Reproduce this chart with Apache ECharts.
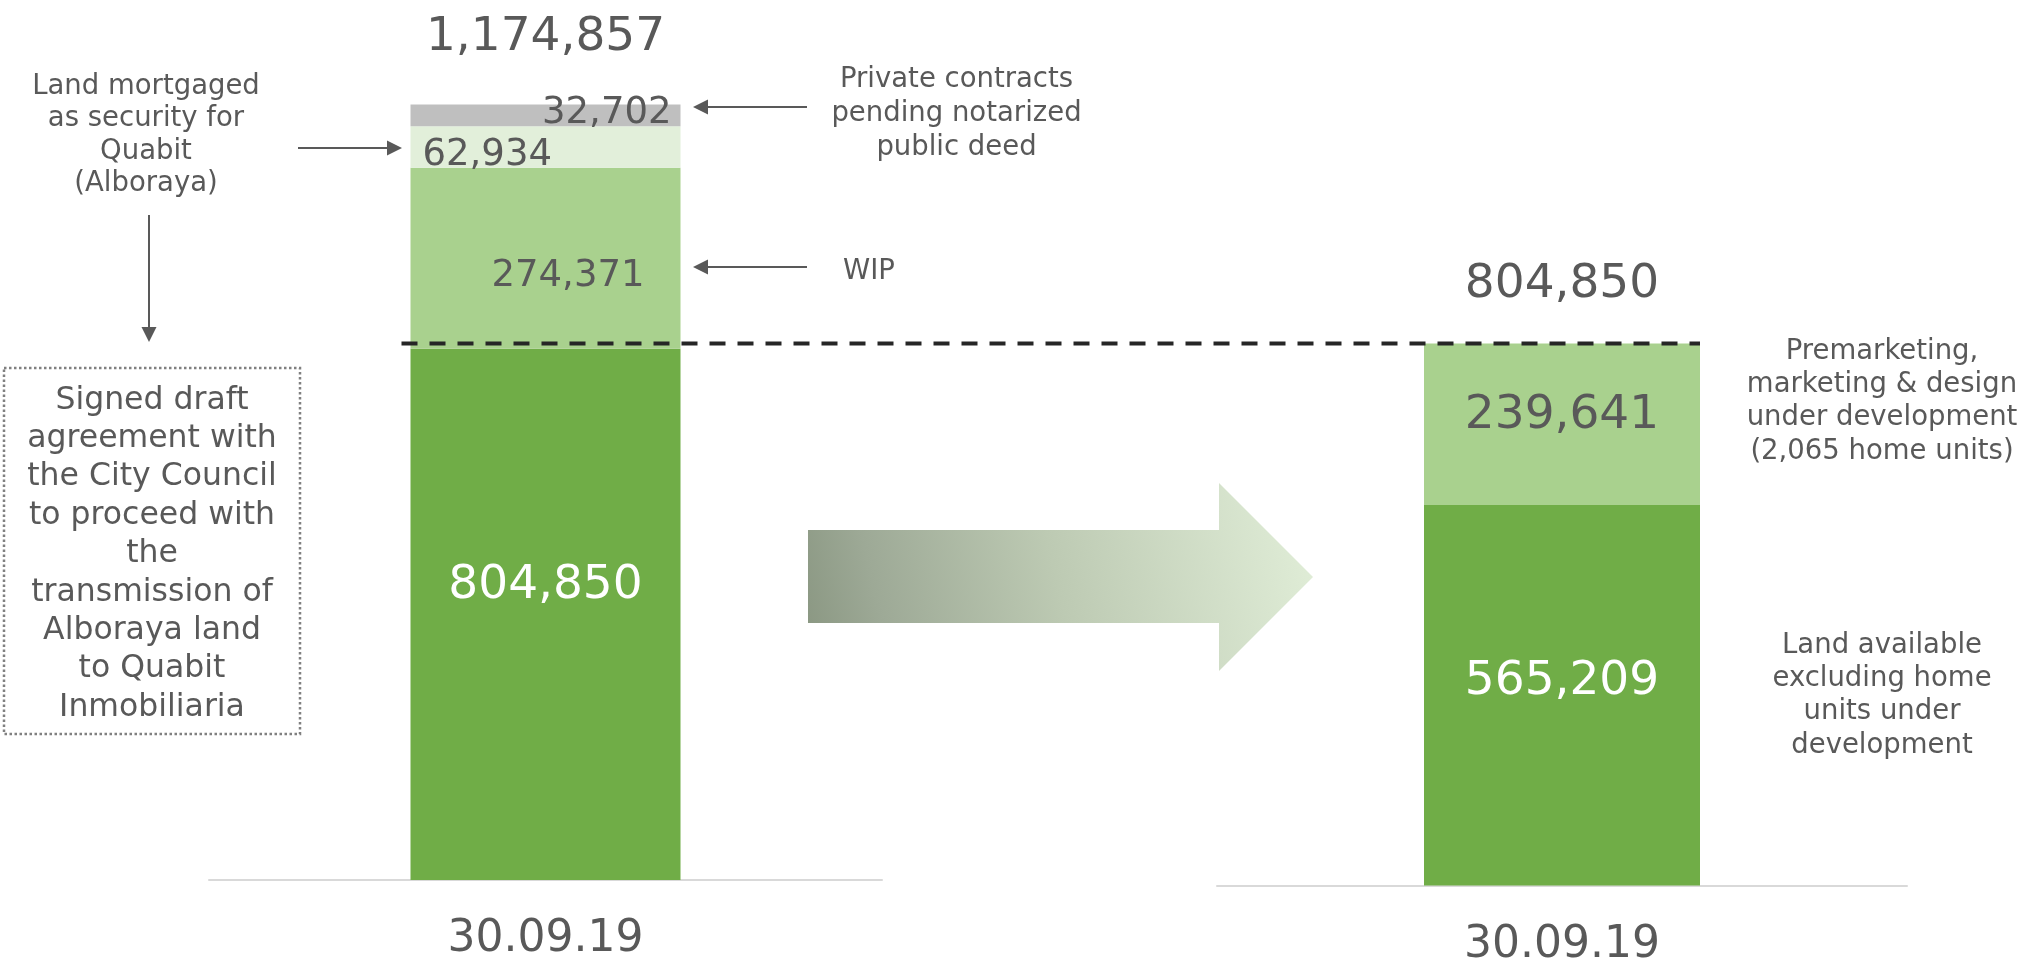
<!DOCTYPE html>
<html><head><meta charset="utf-8">
<script src="https://cdn.jsdelivr.net/npm/echarts@6/dist/echarts.min.js"></script>
<style>html,body{margin:0;padding:0;background:#fff}#c{width:2022px;height:958px}</style>
</head><body><div id="c"></div>
<script>
// ---- data ----
const categories = ['30.09.19'];
const leftLandAvailable = [804850];
const leftWIP = [274371];
const leftMortgaged = [62934];
const leftPrivate = [32702];
const leftTotal = [1174857];
const rightLandAvailable = [565209];
const rightPremarketing = [239641];
const rightTotal = [804850];

const FONT = 'DejaVu Sans';
const TXT = '#595959';
const fmt = v => Number(v).toLocaleString('en-US');
function lbl(extra) {
  return Object.assign({ show: true, fontFamily: FONT, color: TXT, formatter: p => fmt(p.value) }, extra);
}
const chart = echarts.init(document.getElementById('c'), null, { renderer: 'canvas' });

function xAxisFor(idx, margin) {
  return {
    type: 'category', gridIndex: idx, data: categories,
    axisTick: { show: false },
    axisLine: { lineStyle: { color: '#D9D9D9', width: 2 } },
    axisLabel: { fontFamily: FONT, fontSize: 44, color: TXT, margin: margin }
  };
}
const yBase = { type: 'value', min: 0, max: 1200000, show: false, splitLine: { show: false } };

chart.setOption({
  animation: false,
  grid: [
    { left: 209, right: 1140, top: 88, bottom: 78, containLabel: false, outerBoundsMode: 'none' },
    { left: 1217, right: 115, top: 77.5, bottom: 72.5, containLabel: false, outerBoundsMode: 'none' }
  ],
  xAxis: [xAxisFor(0, 38), xAxisFor(1, 38)],
  yAxis: [Object.assign({ gridIndex: 0 }, yBase), Object.assign({ gridIndex: 1 }, yBase)],
  series: [
    { name: 'Land available', type: 'bar', stack: 'L', xAxisIndex: 0, yAxisIndex: 0, data: leftLandAvailable,
      barWidth: 270, barGap: '-100%', itemStyle: { color: '#70AD47' },
      label: lbl({ position: 'inside', color: '#FFFFFF', fontSize: 47, offset: [0, -29] }) },
    { name: 'WIP', type: 'bar', stack: 'L', xAxisIndex: 0, yAxisIndex: 0, data: leftWIP,
      barWidth: 270, barGap: '-100%', itemStyle: { color: '#A9D18E' },
      label: lbl({ position: ['100%', '50%'], align: 'right', verticalAlign: 'middle', offset: [-36, 18], fontSize: 37 }) },
    { name: 'Land mortgaged', type: 'bar', stack: 'L', xAxisIndex: 0, yAxisIndex: 0, data: leftMortgaged,
      barWidth: 270, barGap: '-100%', itemStyle: { color: '#E2EFDA' },
      label: lbl({ position: 'insideLeft', distance: 12, offset: [0, 8], fontSize: 37 }) },
    { name: 'Private contracts', type: 'bar', stack: 'L', xAxisIndex: 0, yAxisIndex: 0, data: leftPrivate,
      barWidth: 270, barGap: '-100%', itemStyle: { color: '#BFBFBF' },
      label: lbl({ position: ['100%', 0], align: 'right', verticalAlign: 'middle', offset: [-9, 9], fontSize: 37 }) },
    { name: 'Total', type: 'bar', xAxisIndex: 0, yAxisIndex: 0, data: leftTotal, z: 1, silent: true,
      barWidth: 270, barGap: '-100%', itemStyle: { color: 'rgba(0,0,0,0)' },
      label: lbl({ position: 'top', distance: 43, fontSize: 47 }) },

    { name: 'Land available excl.', type: 'bar', stack: 'R', xAxisIndex: 1, yAxisIndex: 1, data: rightLandAvailable,
      barWidth: 276, barGap: '-100%', itemStyle: { color: '#70AD47' },
      label: lbl({ position: 'inside', color: '#FFFFFF', fontSize: 47, offset: [0, -13] }) },
    { name: 'Premarketing', type: 'bar', stack: 'R', xAxisIndex: 1, yAxisIndex: 1, data: rightPremarketing,
      barWidth: 276, barGap: '-100%', itemStyle: { color: '#A9D18E' },
      label: lbl({ position: 'inside', fontSize: 47, offset: [0, -8] }) },
    { name: 'Total R', type: 'bar', xAxisIndex: 1, yAxisIndex: 1, data: rightTotal, z: 1, silent: true,
      barWidth: 276, barGap: '-100%', itemStyle: { color: 'rgba(0,0,0,0)' },
      label: lbl({ position: 'top', distance: 35, fontSize: 47 }) }
  ]
});

// ---- annotations ----
const pL = chart.convertToPixel({ gridIndex: 0 }, [0, leftLandAvailable[0]]);
const pR = chart.convertToPixel({ gridIndex: 1 }, [0, rightTotal[0]]);
const dashY = pR[1];
const ARROW = '#595959';
function txt(text, x, y, size, lh, align) {
  return { type: 'text', silent: true, style: { text: text, x: x, y: y, align: align || 'center', verticalAlign: 'middle',
    fontFamily: FONT, fontSize: size, lineHeight: lh, fill: TXT } };
}
function hArrow(x1, x2, y) { // arrow from x1 to tip at x2
  const dir = x2 > x1 ? 1 : -1;
  return [
    { type: 'line', silent: true, shape: { x1: x1, y1: y, x2: x2 - dir * 10, y2: y }, style: { stroke: ARROW, lineWidth: 2 } },
    { type: 'polygon', silent: true, shape: { points: [[x2 - dir * 15, y - 7.5], [x2, y], [x2 - dir * 15, y + 7.5]] }, style: { fill: ARROW } }
  ];
}
function vArrow(x, y1, y2) {
  return [
    { type: 'line', silent: true, shape: { x1: x, y1: y1, x2: x, y2: y2 - 10 }, style: { stroke: ARROW, lineWidth: 2 } },
    { type: 'polygon', silent: true, shape: { points: [[x - 7.5, y2 - 15], [x, y2], [x + 7.5, y2 - 15]] }, style: { fill: ARROW } }
  ];
}
const graphics = [
  { type: 'line', silent: true, z: 100,
    shape: { x1: pL[0] - 144, y1: dashY, x2: pR[0] + 138, y2: dashY },
    style: { stroke: '#262626', lineWidth: 4, lineDash: [16, 12] } },
  { type: 'polygon', silent: true,
    shape: { points: [[808, 530], [1219, 530], [1219, 483], [1313, 577], [1219, 671], [1219, 623], [808, 623]] },
    style: { fill: { type: 'linear', x: 0, y: 0.9, x2: 1, y2: 0.3, colorStops: [
      { offset: 0, color: '#8A9782' }, { offset: 0.15, color: '#9DA996' }, { offset: 0.5, color: '#BDCAB3' }, { offset: 1, color: '#E0EDD7' } ] } } },
  { type: 'rect', silent: true, shape: { x: 4, y: 368, width: 296, height: 366 },
    style: { fill: 'none', stroke: '#808080', lineWidth: 2.5, lineDash: [2.5, 2.5] } },
  txt('Signed draft\nagreement with\nthe City Council\nto proceed with\nthe\ntransmission of\nAlboraya land\nto Quabit\nInmobiliaria', 152, 554, 31.5, 38.4),
  txt('Land mortgaged\nas security for\nQuabit\n(Alboraya)', 146, 135.5, 27.5, 32.5),
  txt('Private contracts\npending notarized\npublic deed', 956.5, 114, 27.5, 33.7),
  txt('WIP', 843, 272, 27.5, 33, 'left'),
  txt('Premarketing,\nmarketing & design\nunder development\n(2,065 home units)', 1882, 401.5, 27.5, 33.3),
  txt('Land available\nexcluding home\nunits under\ndevelopment', 1882, 695.5, 27.5, 33.3)
].concat(hArrow(298, 402, 148), vArrow(149, 215, 342), hArrow(807, 693, 107), hArrow(807, 693, 267));

chart.setOption({ graphic: graphics });
</script>
</body></html>
